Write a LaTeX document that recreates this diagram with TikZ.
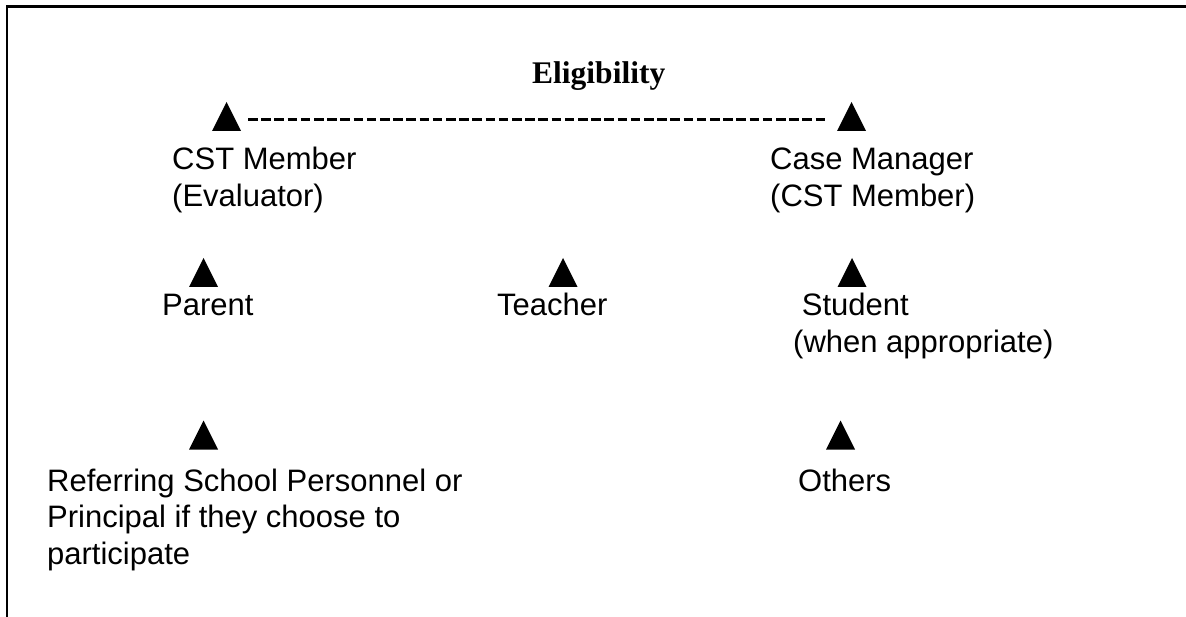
\documentclass[tikz,border=0pt]{standalone}
\usepackage{fontspec}
\setmainfont{Liberation Sans}
\newfontfamily\titleserif{Liberation Serif}
\newcommand{\stacklines}[1]{\begin{tabular}[t]{@{}l@{}}#1\end{tabular}}
\begin{document}
\begin{tikzpicture}[x=1pt,y=-1pt,
  frame/.style={line width=2.3pt},
  tribox/.style={minimum width=29pt,minimum height=29pt,inner sep=0pt,outer sep=0pt},
  label/.style={anchor=base west,inner sep=0pt,font=\fontsize{31}{36.5}\selectfont},
  title/.style={anchor=base west,inner sep=0pt,font=\fontsize{31.5}{36}\titleserif\bfseries},
  dashline/.style={line width=3pt,dash pattern=on 9.5pt off 3.7pt}]
\useasboundingbox (0,0) rectangle (1186,617);
% frame (top and left edges only)
\draw[frame] (6.8,617) -- (6.8,6.5) -- (1186,6.5);
% title
\node[title] (elig) at (532,84) {Eligibility};
% triangles
\node[tribox] (tcst) at (226.5,116.5) {};
\node[tribox] (tcm) at (851.5,116.5) {};
\node[tribox] (tpar) at (203.5,272.5) {};
\node[tribox] (ttea) at (563,272.5) {};
\node[tribox] (tstu) at (852,272.5) {};
\node[tribox] (tref) at (203.5,435) {};
\node[tribox] (toth) at (840.5,435) {};
\foreach \n in {tcst,tcm,tpar,ttea,tstu,tref,toth}
  \fill (\n.south west) -- (\n.south east) -- (\n.north) -- cycle;
% dashed connector
\draw[dashline] ([xshift=7pt,yshift=11pt]tcst.south east) -- ([xshift=-9pt,yshift=11pt]tcm.south west);
% labels
\node[label] (cst) at (172,170) {\stacklines{CST Member\\(Evaluator)}};
\node[label] (cm) at (770,170) {\stacklines{Case Manager\\(CST Member)}};
\node[label] (par) at (162,316) {Parent};
\node[label] (tea) at (497,316) {Teacher};
\node[label] (stu) at (793,316) {\stacklines{\ Student\\(when appropriate)}};
\node[label] (ref) at (47,491) {\stacklines{Referring School Personnel or\\Principal if they choose to\\participate}};
\node[label] (oth) at (798,491) {Others};
\end{tikzpicture}
\end{document}
